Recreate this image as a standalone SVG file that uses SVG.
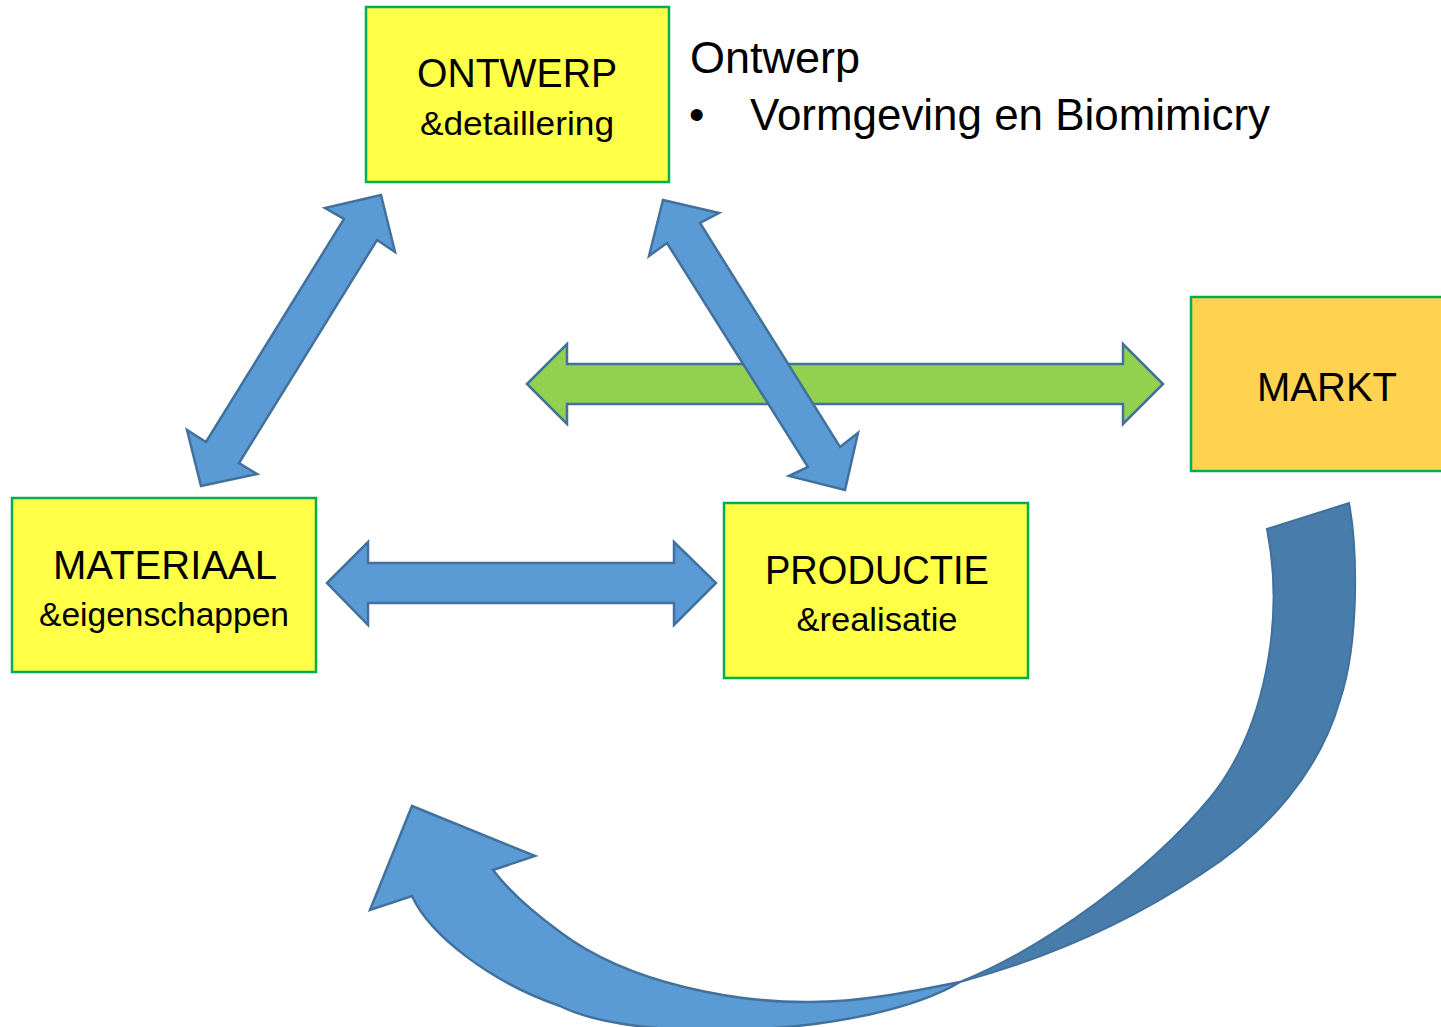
<svg xmlns="http://www.w3.org/2000/svg" width="1441" height="1027" viewBox="0 0 1441 1027">
<style>
.box{fill:#FFFF47;stroke:#00B050;stroke-width:2.5}
.markt{fill:#FFD34F;stroke:#00B050;stroke-width:2.5}
.arr{fill:#5B9BD5;stroke:#41719C;stroke-width:2.5;stroke-linejoin:miter}
.dark{fill:#477CAB;stroke:#41719C;stroke-width:2}
.green{fill:#92D050;stroke:#41719C;stroke-width:2.5}
.big{font-family:"Liberation Sans",Arial,sans-serif;font-size:40px;fill:#000}
.small{font-family:"Liberation Sans",Arial,sans-serif;font-size:33px;fill:#000}
.note{font-family:"Liberation Sans",Arial,sans-serif;font-size:44px;fill:#000}
</style>
<rect width="1441" height="1027" fill="#FFFFFF"/>
<g id="connectors">
  <polygon class="green" points="527,384 567,344 567,364 1123,364 1123,344 1163,384 1123,424 1123,404 567,404 567,424"/>
  <polygon class="arr" points="381,195 395,252 377,240 239,463 257,474 201,486 187,430 206,442 344,219 325,208"/>
  <polygon class="arr" points="663,200 719,213 700,223 840,447 858,433 845,490 789,476 808,467 667,243 649,256"/>
  <polygon class="arr" points="327,583 368,542 368,563 674,563 674,542 716,583 674,625 674,603 368,603 368,625"/>
  <path class="dark" d="M1267,529 L1349,503 C1357,545 1360,640 1340,700 C1320,770 1270,830 1200,875 C1140,915 1060,955 960,982 C1050,945 1150,870 1210,798 C1265,730 1285,620 1267,529 Z"/>
  <path class="arr" d="M960,982 C910,992 860,1002 811,1002 C740,1003 630,985 560,932 C530,910 508,890 493,870 L535,856 L412,806 L370,910 L412,896 C430,935 490,982 560,1006 C640,1046 870,1036 960,982 Z"/>
</g>
<g id="node-ontwerp">
  <rect class="box" x="366" y="7" width="303" height="175"/>
  <text class="big" x="517" y="87" text-anchor="middle" textLength="200" lengthAdjust="spacingAndGlyphs">ONTWERP</text>
  <text class="small" x="517" y="135" text-anchor="middle" textLength="194" lengthAdjust="spacingAndGlyphs">&amp;detaillering</text>
</g>
<g id="node-materiaal">
  <rect class="box" x="12" y="498" width="304" height="174"/>
  <text class="big" x="165" y="579" text-anchor="middle" textLength="224" lengthAdjust="spacingAndGlyphs">MATERIAAL</text>
  <text class="small" x="164" y="626" text-anchor="middle" textLength="250" lengthAdjust="spacingAndGlyphs">&amp;eigenschappen</text>
</g>
<g id="node-productie">
  <rect class="box" x="724" y="503" width="304" height="175"/>
  <text class="big" x="877" y="584" text-anchor="middle" textLength="224" lengthAdjust="spacingAndGlyphs">PRODUCTIE</text>
  <text class="small" x="877" y="631" text-anchor="middle" textLength="161" lengthAdjust="spacingAndGlyphs">&amp;realisatie</text>
</g>
<g id="node-markt">
  <rect class="markt" x="1191" y="297" width="262" height="174"/>
  <text class="big" x="1327" y="401" text-anchor="middle" textLength="140" lengthAdjust="spacingAndGlyphs">MARKT</text>
</g>
<g id="note">
  <text class="note" x="690" y="73" textLength="170" lengthAdjust="spacingAndGlyphs">Ontwerp</text>
  <text class="note" x="689" y="130">•</text>
  <text class="note" x="750" y="130" textLength="520" lengthAdjust="spacingAndGlyphs">Vormgeving en Biomimicry</text>
</g>
</svg>
